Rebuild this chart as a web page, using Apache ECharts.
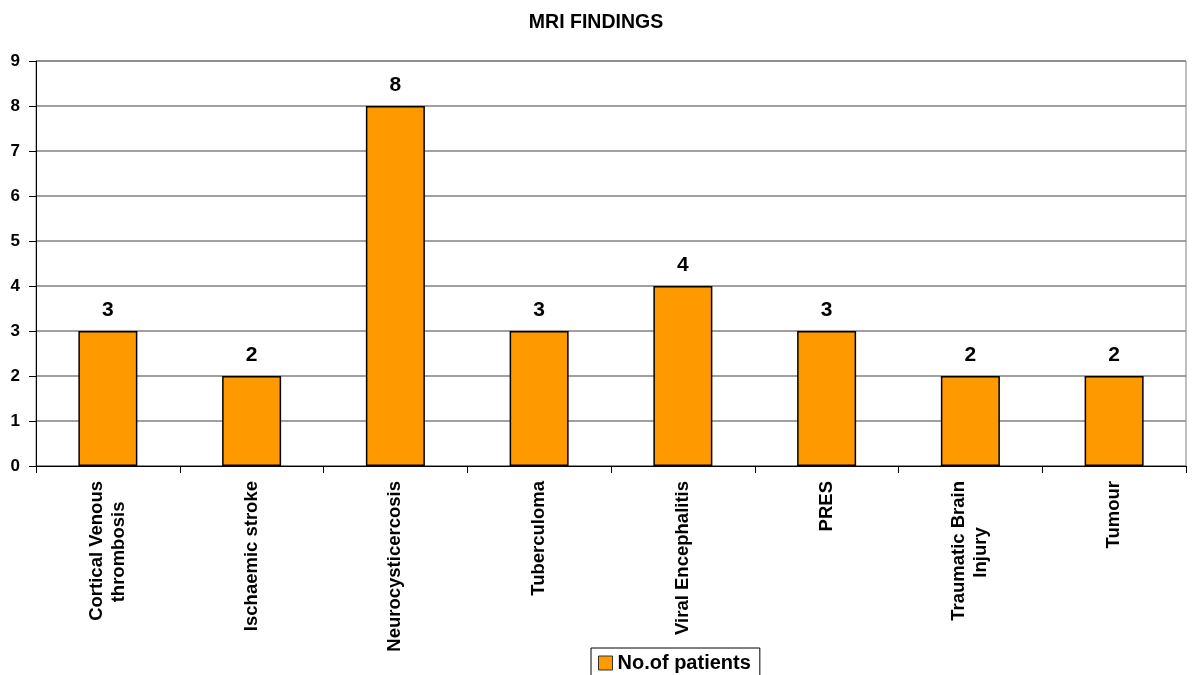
<!DOCTYPE html>
<html>
<head>
<meta charset="utf-8">
<script src="https://cdn.jsdelivr.net/npm/echarts@6/dist/echarts.min.js"></script>
<style>
  html, body { margin: 0; padding: 0; background: #fff; }
  #main { width: 1192px; height: 675px; }
</style>
</head>
<body>
<div id="main"></div>
<script>
const categories = ['Cortical Venous\nthrombosis', 'Ischaemic stroke', 'Neurocysticercosis', 'Tuberculoma',
  'Viral Encephalitis', 'PRES', 'Traumatic Brain\nInjury', 'Tumour'];
const patients = [3, 2, 8, 3, 4, 3, 2, 2];
const yTicks = { min: 0, max: 9, interval: 1 };

const FONT = 'Liberation Sans, Arial, sans-serif';
const LABEL_SIZE = 18.5;

// rotated labels are right-aligned; trailing no-break spaces push a short line to the middle of the block
const measure = document.createElement('canvas').getContext('2d');
measure.font = 'bold ' + LABEL_SIZE + 'px Liberation Sans';
const NBSP = '\u00a0';
const nbspWidth = measure.measureText(NBSP).width || 5;
function centreLines(name) {
  const lines = name.split('\n');
  if (lines.length < 2) return name;
  const widths = lines.map(function (l) { return measure.measureText(l).width; });
  const w = Math.max.apply(null, widths);
  return lines.map(function (l, j) {
    const n = Math.round((w - widths[j]) / 2 / nbspWidth);
    return l + NBSP.repeat(n);
  }).join('\n');
}

const chart = echarts.init(document.getElementById('main'));
chart.setOption({
  animation: false,
  textStyle: { fontFamily: FONT },
  title: {
    text: 'MRI FINDINGS',
    left: 'center',
    top: 8,
    textStyle: { fontSize: 19.5, fontWeight: 'bold', color: '#000', fontFamily: FONT }
  },
  grid: {
    left: 36, right: 6, top: 61, bottom: 209,
    show: true, borderColor: '#808080', borderWidth: 1
  },
  legend: {
    bottom: -3,
    left: 591,
    data: [{ name: 'No.of patients', icon: 'rect' }],
    itemWidth: 14, itemHeight: 14, itemGap: 4,
    borderColor: '#000', borderWidth: 1, borderRadius: 0,
    padding: [5, 9, 5, 7],
    itemStyle: { borderColor: '#333', borderWidth: 1 },
    textStyle: { fontSize: 20, fontWeight: 'bold', color: '#000', fontFamily: FONT }
  },
  xAxis: {
    type: 'category',
    data: categories,
    axisLine: { lineStyle: { color: '#000' } },
    axisTick: { show: true, length: 7, lineStyle: { color: '#000' } },
    axisLabel: {
      rotate: 90, interval: 0, margin: 15,
      fontSize: LABEL_SIZE, fontWeight: 'bold', color: '#000', lineHeight: 22, fontFamily: FONT,
      formatter: centreLines
    }
  },
  yAxis: {
    type: 'value',
    min: yTicks.min, max: yTicks.max, interval: yTicks.interval,
    axisLine: { show: true, lineStyle: { color: '#000' } },
    axisTick: { show: true, length: 7, lineStyle: { color: '#000' } },
    splitLine: { lineStyle: { color: '#808080', width: 1.5 } },
    axisLabel: { fontSize: 17, fontWeight: 'bold', color: '#000', margin: 16, fontFamily: FONT }
  },
  series: [{
    name: 'No.of patients',
    type: 'bar',
    data: patients,
    barWidth: 59,
    itemStyle: { color: '#FF9900', borderColor: '#000', borderWidth: 1.5 },
    label: {
      show: true, position: 'top', distance: 10,
      fontSize: 21, fontWeight: 'bold', color: '#000', fontFamily: FONT
    }
  }]
});
</script>
</body>
</html>
